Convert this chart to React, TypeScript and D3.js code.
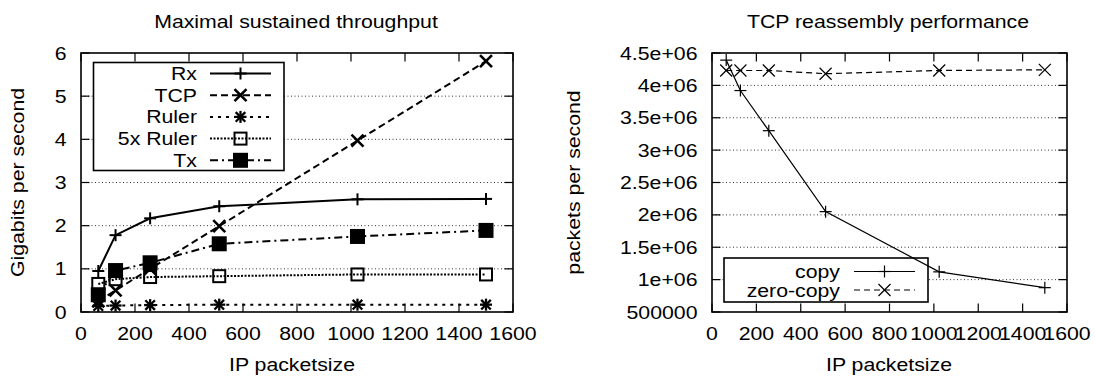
import { useEffect, useRef } from "react";
import * as d3 from "d3";

// packet sizes (bytes) used in both plots
const packetSizes = [64, 128, 256, 512, 1024, 1500];

// left plot: Gbit/s per series
const rxGbps = [0.95, 1.78, 2.17, 2.45, 2.61, 2.62];
const tcpGbps = [0.25, 0.5, 1.0, 1.99, 3.97, 5.81];
const rulerGbps = [0.14, 0.15, 0.16, 0.17, 0.17, 0.17];
const ruler5Gbps = [0.65, 0.76, 0.81, 0.83, 0.87, 0.87];
const txGbps = [0.4, 0.96, 1.14, 1.58, 1.75, 1.89];

// right plot: packets per second
const copyPps = [4390000, 3920000, 3300000, 2050000, 1120000, 876000];
const zeroCopyPps = [4230000, 4230000, 4230000, 4180000, 4230000, 4240000];

const xTicks = [0, 200, 400, 600, 800, 1000, 1200, 1400, 1600];
const gbpsTicks = [0, 1, 2, 3, 4, 5, 6];
const ppsTicks = [500000, 1000000, 1500000, 2000000, 2500000, 3000000, 3500000, 4000000, 4500000];
const ppsTickLabels = ["500000", "1e+06", "1.5e+06", "2e+06", "2.5e+06", "3e+06", "3.5e+06", "4e+06", "4.5e+06"];

const FONT = "'Liberation Sans', Arial, Helvetica, sans-serif";

const addText = (g, str, x, y, anchor, rotate = false) =>
  g
    .append("text")
    .attr("transform", `translate(${x},${y})${rotate ? " rotate(-90)" : ""} scale(1.15,1)`)
    .attr("text-anchor", anchor)
    .attr("fill", "#000")
    .style("font-family", FONT)
    .style("font-size", "18.5px")
    .text(str);

const drawMarker = (g, type, cx, cy, s, sw) => {
  const line = (x1, y1, x2, y2) =>
    g.append("line")
      .attr("x1", cx + x1).attr("y1", cy + y1)
      .attr("x2", cx + x2).attr("y2", cy + y2)
      .attr("stroke", "#000").attr("stroke-width", sw);
  if (type === "plus" || type === "star") {
    line(-s, 0, s, 0);
    line(0, -s, 0, s);
  }
  if (type === "cross" || type === "star") {
    const d = type === "star" ? s * 0.8 : s;
    line(-d, -d, d, d);
    line(-d, d, d, -d);
  }
  if (type === "box" || type === "fbox") {
    g.append("rect")
      .attr("x", cx - s).attr("y", cy - s)
      .attr("width", 2 * s).attr("height", 2 * s)
      .attr("fill", type === "fbox" ? "#000" : "none")
      .attr("stroke", "#000").attr("stroke-width", sw);
  }
};

const drawPanel = (svg, p) => {
  const { box } = p;
  const x = d3.scaleLinear().domain([0, 1600]).range([box.x0, box.x1]);
  const y = d3.scaleLinear().domain(p.yDomain).range([box.y1, box.y0]);
  const g = svg.append("g");

  // grelha horizontal pontilhada
  p.yTicks.slice(1, -1).forEach((v) => {
    g.append("line")
      .attr("x1", box.x0).attr("x2", box.x1)
      .attr("y1", y(v)).attr("y2", y(v))
      .attr("stroke", "#000").attr("stroke-width", 0.8)
      .attr("stroke-dasharray", "1,2.5");
  });

  // ticks on all four sides, pointing inwards
  const tl = 8.5;
  xTicks.forEach((v) => {
    g.append("line").attr("x1", x(v)).attr("x2", x(v)).attr("y1", box.y1).attr("y2", box.y1 - tl).attr("stroke", "#000").attr("stroke-width", 1.2);
    g.append("line").attr("x1", x(v)).attr("x2", x(v)).attr("y1", box.y0).attr("y2", box.y0 + tl).attr("stroke", "#000").attr("stroke-width", 1.2);
    addText(g, String(v), x(v), 340, "middle");
  });
  p.yTicks.forEach((v, i) => {
    g.append("line").attr("x1", box.x0).attr("x2", box.x0 + tl).attr("y1", y(v)).attr("y2", y(v)).attr("stroke", "#000").attr("stroke-width", 1.2);
    g.append("line").attr("x1", box.x1).attr("x2", box.x1 - tl).attr("y1", y(v)).attr("y2", y(v)).attr("stroke", "#000").attr("stroke-width", 1.2);
    addText(g, p.yLabels[i], box.x0 - 14.5, y(v) + 6.5, "end");
  });

  g.append("rect")
    .attr("x", box.x0).attr("y", box.y0)
    .attr("width", box.x1 - box.x0).attr("height", box.y1 - box.y0)
    .attr("fill", "none").attr("stroke", "#000").attr("stroke-width", 1.6);

  // legenda (caixa opaca, desenhada antes das curvas)
  const L = p.legend;
  g.append("rect")
    .attr("x", L.x0).attr("y", L.y0)
    .attr("width", L.x1 - L.x0).attr("height", L.y1 - L.y0)
    .attr("fill", "#fff").attr("stroke", "#000").attr("stroke-width", 1.6);
  p.series.forEach((s, i) => {
    const ry = L.row0 + i * L.step;
    addText(g, s.name, L.textX, ry + 6.5, "end");
    g.append("line")
      .attr("x1", L.s0).attr("x2", L.s1).attr("y1", ry).attr("y2", ry)
      .attr("stroke", "#000").attr("stroke-width", p.lw)
      .attr("stroke-dasharray", s.dash);
    drawMarker(g, s.marker, (L.s0 + L.s1) / 2, ry, s.size, s.mw || p.lw);
  });

  // curvas
  const lineGen = d3.line().x((d) => x(d[0])).y((d) => y(d[1]));
  p.series.forEach((s) => {
    const pts = packetSizes.map((v, i) => [v, s.values[i]]);
    g.append("path")
      .attr("d", lineGen(pts))
      .attr("fill", "none").attr("stroke", "#000").attr("stroke-width", p.lw)
      .attr("stroke-dasharray", s.dash);
    pts.forEach((d) => drawMarker(g, s.marker, x(d[0]), y(d[1]), s.size, s.mw || p.lw));
  });

  addText(g, p.title, p.titleX, 28, "middle");
  addText(g, "IP packetsize", p.xLabelX, 371, "middle");
  addText(g, p.yTitle, p.yTitleX, (box.y0 + box.y1) / 2, "middle", true);
};

export default function App() {
  const svgRef = useRef(null);

  useEffect(() => {
    const svg = d3.select(svgRef.current);
    svg.selectAll("*").remove();

    drawPanel(svg, {
      box: { x0: 81, x1: 513, y0: 53, y1: 312 },
      yDomain: [0, 6],
      yTicks: gbpsTicks,
      yLabels: gbpsTicks.map(String),
      lw: 2,
      title: "Maximal sustained throughput",
      titleX: 296,
      xLabelX: 292,
      yTitle: "Gigabits per second",
      yTitleX: 24,
      legend: { x0: 93.5, x1: 284, y0: 62.5, y1: 170.5, row0: 73.5, step: 21.7, textX: 197, s0: 210, s1: 271 },
      series: [
        { name: "Rx", values: rxGbps, dash: null, marker: "plus", size: 6 },
        { name: "TCP", values: tcpGbps, dash: "7,4", marker: "cross", size: 6, mw: 2.6 },
        { name: "Ruler", values: rulerGbps, dash: "3,5", marker: "star", size: 6, mw: 2.3 },
        { name: "5x Ruler", values: ruler5Gbps, dash: "2,1.5", marker: "box", size: 6 },
        { name: "Tx", values: txGbps, dash: "8,4,2,4", marker: "fbox", size: 6.5 },
      ],
    });

    drawPanel(svg, {
      box: { x0: 712, x1: 1067, y0: 53, y1: 312 },
      yDomain: [500000, 4500000],
      yTicks: ppsTicks,
      yLabels: ppsTickLabels,
      lw: 1.2,
      title: "TCP reassembly performance",
      titleX: 888,
      xLabelX: 889,
      yTitle: "packets per second",
      yTitleX: 580,
      legend: { x0: 724, x1: 928, y0: 258, y1: 302, row0: 271.5, step: 18.5, textX: 840, s0: 854, s1: 915 },
      series: [
        { name: "copy", values: copyPps, dash: null, marker: "plus", size: 6 },
        { name: "zero-copy", values: zeroCopyPps, dash: "6,4", marker: "cross", size: 6 },
      ],
    });
  }, []);

  return (
    <svg
      ref={svgRef}
      width={1095}
      height={377}
      style={{ position: "absolute", left: 0, top: 0, background: "#fff" }}
    ></svg>
  );
}
